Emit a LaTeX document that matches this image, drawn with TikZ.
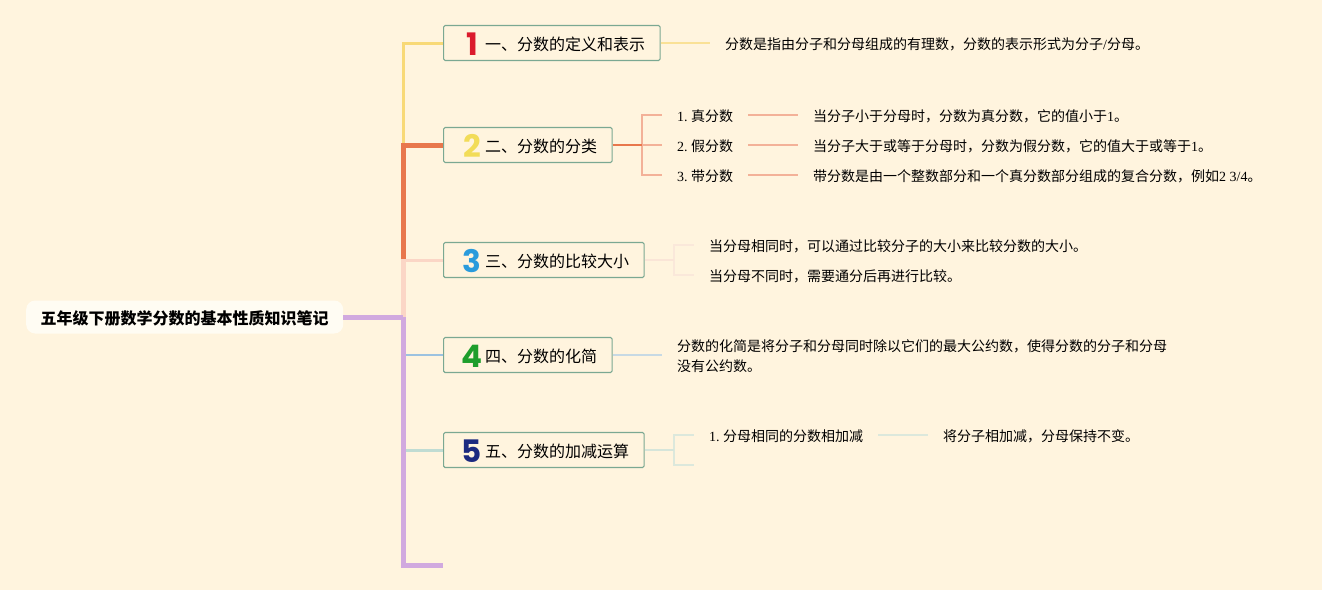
\documentclass[tikz,border=0pt]{standalone}
\usepackage{fontspec}
\setmainfont{Noto Sans CJK SC}
\newfontfamily\latfont{Liberation Serif}
\newfontfamily\numfont{Poppins}[BoldFont={Poppins Bold}]
\newcommand{\lat}[1]{{\latfont #1}}
\newcommand{\topicnum}[2]{\makebox[26.5pt][c]{\smash{\raisebox{-5pt}{\fontsize{31}{31}\selectfont\numfont\bfseries\color{#1}#2}}}}
\definecolor{paper}{HTML}{FFF4DE}
\definecolor{rootfill}{HTML}{FFFCF3}
\definecolor{boxline}{HTML}{7BA892}
\definecolor{spineyellow}{HTML}{F8D977}
\definecolor{spineorange}{HTML}{E8774C}
\definecolor{spinepink}{HTML}{FBD6C6}
\definecolor{spineblue}{HTML}{9CC2E0}
\definecolor{spinegreen}{HTML}{C0DCD3}
\definecolor{spinepurple}{HTML}{D1A9DF}
\definecolor{forkorange}{HTML}{F3B198}
\definecolor{forkpink}{HTML}{FAE8DA}
\definecolor{forkblue}{HTML}{C7D9E4}
\definecolor{forkgreen}{HTML}{DCE8DC}
\definecolor{numred}{HTML}{DB1A2C}
\definecolor{numyellow}{HTML}{F2DC58}
\definecolor{numblue}{HTML}{2A9BDC}
\definecolor{numgreen}{HTML}{1E9E2C}
\definecolor{numnavy}{HTML}{1C2A80}
\tikzset{
  rootnode/.style={fill=rootfill,rounded corners=9pt,anchor=west,inner xsep=14.5pt,minimum height=33pt,text height=17pt,text depth=2pt,font=\fontsize{16}{20}\selectfont\bfseries},
  topicnode/.style={draw=boxline,line width=1.2pt,rounded corners=1.5pt,anchor=west,inner xsep=15pt,inner ysep=0pt,minimum height=35pt,text height=16.5pt,text depth=2pt,font=\fontsize{16}{20}\selectfont},
  leafnode/.style={anchor=west,inner xsep=15pt,inner ysep=2pt,align=left,font=\fontsize{14}{20}\selectfont},
  leafline/.style={leafnode,text height=15pt,text depth=2pt},
}
\begin{document}
\begin{tikzpicture}[x=1pt,y=-1pt]
\fill[paper] (0,0) rectangle (1322,590); % background
\useasboundingbox (0,0) rectangle (1322,590);
\node[rootnode] (root) at (26,317) {五年级下册数学分数的基本性质知识笔记}; % root
\node[topicnode] (topicA) at (443,43) {\topicnum{numred}{1}一、分数的定义和表示}; % topic.1
\node[topicnode] (topicB) at (443,145) {\topicnum{numyellow}{2}二、分数的分类}; % topic.2
\node[topicnode] (topicC) at (443,260) {\topicnum{numblue}{3}三、分数的比较大小}; % topic.3
\node[topicnode] (topicD) at (443,355) {\topicnum{numgreen}{4}四、分数的化简}; % topic.4
\node[topicnode] (topicE) at (443,450) {\topicnum{numnavy}{5}五、分数的加减运算}; % topic.5
\coordinate (spine) at (403,317);
\coordinate (spineTop) at (403,145);
\coordinate (spineMid) at (403,259);
\coordinate (spineEnd) at (443,565);
\node[leafline] (textA) at (710,43) {分数是指由分子和分母组成的有理数，分数的表示形式为分子\lat{/}分母。}; % topic.1 text
\node[leafline] (leafBa) at (662,115) {\lat{1.\ }真分数}; % topic.2 kinds
\node[leafline] (leafBb) at (662,145) {\lat{2.\ }假分数};
\node[leafline] (leafBc) at (662,175) {\lat{3.\ }带分数};
\node[leafline] (textBa) at (798,115) {当分子小于分母时，分数为真分数，它的值小于\lat{1}。};
\node[leafline] (textBb) at (798,145) {当分子大于或等于分母时，分数为假分数，它的值大于或等于\lat{1}。};
\node[leafline] (textBc) at (798,175) {带分数是由一个整数部分和一个真分数部分组成的复合分数，例如\lat{2 3/4}。};
\node[leafline] (textCa) at (694,245) {当分母相同时，可以通过比较分子的大小来比较分数的大小。}; % topic.3 text
\node[leafline] (textCb) at (694,275) {当分母不同时，需要通分后再进行比较。};
\node[leafnode] (textD) at (662,356.5) {分数的化简是将分子和分母同时除以它们的最大公约数，使得分数的分子和分母\\没有公约数。}; % topic.4 text
\node[leafline] (leafEa) at (694,435) {\lat{1.\ }分母相同的分数相加减}; % topic.5 kinds
\node[leafline] (textEa) at (928,435) {将分子相加减，分母保持不变。};
\coordinate (forkB) at (642,145);
\coordinate (forkC) at (674,260);
\coordinate (forkE) at (674,450);
\coordinate (blankE) at (694,465);
\draw[line width=3pt,spineyellow] (spineTop) |- (topicA.west); % branch.1
\draw[line width=3pt,spinepink] (spineMid |- topicC.west) -- (topicC.west); % branch.3
\draw[line width=5pt,spinepink] (spine) -- (spineMid);
\draw[line width=5pt,spineorange] (spineMid) |- (topicB.west); % branch.2
\draw[line width=1.5pt,spineblue] (spine |- topicD.west) -- (topicD.west); % branch.4
\draw[line width=3pt,spinegreen] (spine |- topicE.west) -- (topicE.west); % branch.5
\draw[line width=5pt,spinepurple] (root.east) -- (spine); % trunk
\draw[line width=5pt,spinepurple] (spine) |- (spineEnd);
\draw[line width=1.2pt,spineyellow!70!paper] (topicA.east) -- (textA.west); % topic.1 out
\draw[line width=1.5pt,forkorange] (forkB) |- (leafBa.west);
\draw[line width=1.5pt,forkorange] (forkB) -- (leafBb.west);
\draw[line width=1.5pt,forkorange] (forkB) |- (leafBc.west);
\draw[line width=1.5pt,spineorange] (topicB.east) -- (forkB); % topic.2 out
\draw[line width=1.5pt,forkorange] (leafBa.east) -- (textBa.west);
\draw[line width=1.5pt,forkorange] (leafBb.east) -- (textBb.west);
\draw[line width=1.5pt,forkorange] (leafBc.east) -- (textBc.west);
\draw[line width=1.5pt,forkpink] (forkC) |- (textCa.west);
\draw[line width=1.5pt,forkpink] (forkC) |- (textCb.west);
\draw[line width=1.5pt,forkpink!85!spinepink] (topicC.east) -- (forkC); % topic.3 out
\draw[line width=2pt,forkblue] (topicD.east) -- (topicD.east -| textD.west); % topic.4 out
\draw[line width=1.5pt,forkgreen] (forkE) |- (leafEa.west);
\draw[line width=1.5pt,forkgreen] (forkE) |- (blankE);
\draw[line width=1.5pt,forkgreen!80!spinegreen] (topicE.east) -- (forkE); % topic.5 out
\draw[line width=1.3pt,forkgreen] (leafEa.east) -- (textEa.west);
\end{tikzpicture}
\end{document}
